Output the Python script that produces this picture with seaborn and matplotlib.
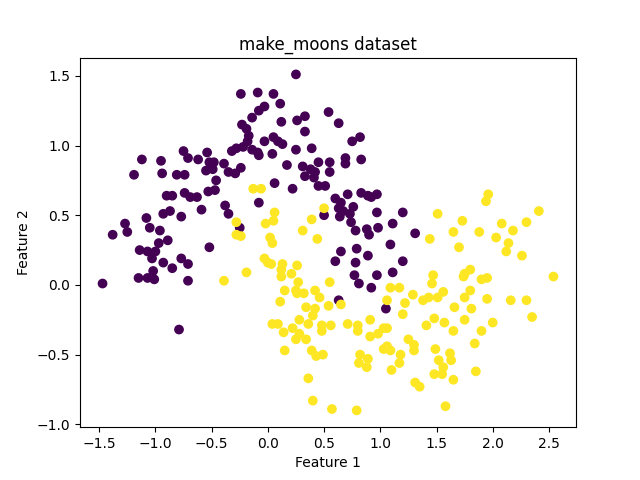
import pandas as pd
import seaborn as sns
import matplotlib.pyplot as plt

# Points (class 0 = upper moon, class 1 = lower moon)
moon0_x = [-1.12, -1.19, -0.95, -0.94, -0.81, -0.74, -0.75, -0.71, -0.62, -0.54,
           -0.52, -0.48, -0.55, -0.49, -0.39, -0.46, -0.35, -0.29, -0.32, -0.28,
           0.25, -0.24, -0.09, 0.05, 0.11, -0.03, -0.08, -0.14, -0.23, -0.19,
           -0.17, -0.18, -0.22, -0.03, 0.05, 0.09, 0.13, 0.12, 0.26, 0.33,
           0.33, 0.54, 0.63, 0.25, 0.39, 0.04, -0.14, -0.09, -0.08, -0.24,
           0.17, 0.31, 0.38, 0.42, 0.33, 0.41, 0.45, 0.55, 0.55, 0.69,
           0.69, 0.83, 0.75, 0.82, 0.06, 0.22, 0.45, 0.51, -0.08, -0.25,
           0.60, 0.65, 0.71, 0.83, 0.89, 0.97, 0.92, 0.63, 0.67, 0.76,
           0.50, 0.64, 0.73, 0.74, 0.78, 0.88, 0.90, 0.98, 0.97, 1.20,
           1.11, 1.09, 0.79, 0.65, 0.89, 0.60, 0.78, 1.20, 1.11, 0.97,
           0.77, 0.81, 0.92, 0.63, 1.05, 1.31, -0.90, -0.85, -0.74, -0.69,
           -0.63, -0.53, -0.47, -0.38, -0.35, -0.59, -0.77, -0.87, -0.93, -1.08,
           -1.05, -1.27, -1.25, -1.38, -0.96, -0.89, -0.97, -1.14, -1.07, -1.00,
           -1.03, -0.93, -0.77, -0.71, -0.85, -0.52, -1.15, -1.07, -1.02, -1.01,
           -0.71, -1.47, -0.79]
moon0_y = [0.90, 0.79, 0.89, 0.80, 0.79, 0.79, 0.96, 0.91, 0.90, 0.95,
           0.88, 0.88, 0.82, 0.83, 0.87, 0.75, 0.81, 0.80, 0.96, 0.98,
           1.51, 1.37, 1.38, 1.37, 1.30, 1.28, 1.25, 1.20, 1.15, 1.12,
           1.07, 1.03, 0.99, 1.03, 1.06, 1.03, 1.01, 1.17, 1.18, 1.21,
           1.10, 1.24, 1.16, 0.97, 0.98, 0.94, 0.97, 0.95, 0.93, 0.84,
           0.86, 0.85, 0.83, 0.81, 0.78, 0.77, 0.88, 0.88, 0.81, 0.91,
           0.87, 0.90, 1.03, 1.06, 0.73, 0.69, 0.71, 0.71, 0.59, 0.41,
           0.62, 0.59, 0.65, 0.66, 0.64, 0.65, 0.63, 0.55, 0.53, 0.56,
           0.50, 0.49, 0.51, 0.45, 0.39, 0.40, 0.36, 0.41, 0.52, 0.52,
           0.44, 0.29, 0.26, 0.24, 0.21, 0.17, 0.16, 0.17, 0.09, 0.07,
           0.07, 0.01, -0.02, -0.11, -0.17, 0.37, 0.64, 0.64, 0.66, 0.63,
           0.63, 0.67, 0.68, 0.57, 0.51, 0.54, 0.49, 0.53, 0.51, 0.48,
           0.41, 0.44, 0.38, 0.36, 0.39, 0.32, 0.30, 0.25, 0.24, 0.24,
           0.19, 0.16, 0.19, 0.15, 0.12, 0.27, 0.05, 0.05, 0.10, 0.04,
           0.03, 0.01, -0.32]

moon1_x = [-0.39, -0.13, -0.06, 0.06, 0.05, -0.02, -0.28, -0.28, -0.24, 0.02,
           0.04, 0.31, 0.39, 0.44, 0.50, -0.03, 0.00, 0.03, -0.19, 0.13,
           0.12, 0.12, 0.21, 0.26, 0.27, 0.15, 0.25, 0.26, 0.32, 0.42,
           0.46, 0.55, 0.11, 1.09, 1.17, 1.06, 1.96, 1.94, 1.51, 1.73,
           1.65, 1.44, 1.70, 1.88, 2.08, 2.18, 2.30, 2.41, 2.03, 2.14,
           2.12, 2.26, 2.54, 1.80, 1.75, 1.74, 1.47, 1.46, 1.90, 1.95,
           1.80, 1.75, 1.95, 2.16, 2.30, 1.29, 1.22, 1.38, 1.43, 1.51,
           1.56, 1.66, 1.81, 1.48, 1.41, 1.57, 1.75, 2.00, 2.35, 1.65,
           1.90, 1.25, 1.30, 1.30, 1.49, 1.62, 1.63, 1.52, 1.84, 1.56,
           1.55, 1.48, 1.65, 1.85, 1.31, 1.35, 1.58, 0.34, 0.42, 0.54,
           0.65, 0.40, 0.36, 0.28, 0.04, 0.09, 0.22, 0.14, 0.28, 0.25,
           0.34, 0.48, 0.56, 0.48, 0.71, 0.80, 0.80, 0.91, 0.91, 0.98,
           1.03, 1.06, 1.20, 0.15, 0.39, 0.43, 0.49, 0.82, 0.81, 0.89,
           0.88, 1.03, 1.06, 1.09, 1.18, 1.17, 1.10, 0.36, 0.40, 0.57,
           0.79]
moon1_y = [0.03, 0.69, 0.69, 0.52, 0.46, 0.44, 0.45, 0.36, 0.35, 0.34,
           0.30, 0.39, 0.47, 0.33, 0.55, 0.19, 0.16, 0.15, 0.09, 0.15,
           0.11, 0.06, 0.08, 0.14, 0.02, -0.04, -0.04, -0.06, -0.06, -0.04,
           -0.09, 0.02, -0.12, -0.02, -0.02, -0.11, 0.65, 0.60, 0.51, 0.46,
           0.38, 0.33, 0.27, 0.38, 0.44, 0.39, 0.45, 0.53, 0.34, 0.30,
           0.24, 0.21, 0.06, 0.11, 0.08, 0.06, 0.07, 0.01, 0.04, 0.05,
           -0.04, -0.09, -0.10, -0.11, -0.11, -0.07, -0.13, -0.11, -0.09, -0.09,
           -0.05, -0.16, -0.17, -0.24, -0.29, -0.27, -0.25, -0.27, -0.23, -0.33,
           -0.33, -0.39, -0.43, -0.47, -0.46, -0.49, -0.54, -0.54, -0.42, -0.59,
           -0.64, -0.64, -0.68, -0.62, -0.70, -0.73, -0.87, -0.16, -0.17, -0.15,
           -0.14, -0.22, -0.28, -0.25, -0.28, -0.28, -0.31, -0.34, -0.35, -0.39,
           -0.39, -0.29, -0.29, -0.33, -0.28, -0.29, -0.33, -0.25, -0.37, -0.35,
           -0.31, -0.31, -0.21, -0.47, -0.47, -0.51, -0.50, -0.50, -0.56, -0.53,
           -0.59, -0.46, -0.44, -0.47, -0.50, -0.56, -0.61, -0.67, -0.83, -0.89,
           -0.90]

df = pd.DataFrame({
    'x': moon0_x + moon1_x,
    'y': moon0_y + moon1_y,
    'label': [0] * len(moon0_x) + [1] * len(moon1_x),
})

fig, ax = plt.subplots(figsize=(6.4, 4.8), dpi=100)
# edgecolor='face' with a 1pt edge gives the same dot size as plt.scatter's default
sns.scatterplot(data=df, x='x', y='y', hue='label',
                palette=['#440154', '#fde725'],
                s=36, linewidth=1, edgecolor='face', alpha=1,
                legend=False, ax=ax)

ax.set_title('make_moons dataset')
ax.set_xlabel('Feature 1')
ax.set_ylabel('Feature 2')

fig.savefig('out.png')
